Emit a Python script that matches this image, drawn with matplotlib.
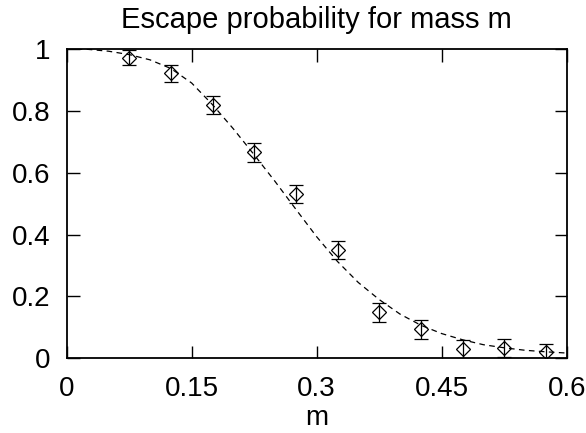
import matplotlib.pyplot as plt

plt.rcParams['font.family'] = ['Liberation Sans', 'DejaVu Sans']

# measured points
mass = [0.075, 0.125, 0.175, 0.225, 0.275, 0.325, 0.375, 0.425, 0.475, 0.525, 0.575]
prob = [0.972, 0.921, 0.819, 0.666, 0.531, 0.350, 0.149, 0.094, 0.029, 0.034, 0.021]
err = [0.025, 0.028, 0.030, 0.030, 0.030, 0.030, 0.030, 0.030, 0.030, 0.029, 0.025]

# dashed curve
curve_m = [0.0, 0.025, 0.05, 0.075, 0.1, 0.125, 0.15, 0.175, 0.2, 0.225, 0.25, 0.275,
           0.3, 0.325, 0.35, 0.375, 0.4, 0.425, 0.45, 0.475, 0.5, 0.525, 0.55, 0.575, 0.6]
curve_p = [1.0, 0.999, 0.993, 0.982, 0.965, 0.937, 0.890, 0.820, 0.742, 0.658, 0.572, 0.482,
           0.393, 0.313, 0.245, 0.190, 0.143, 0.107, 0.080, 0.060, 0.044, 0.034, 0.026, 0.021, 0.017]

xticks = [0, 0.15, 0.3, 0.45, 0.6]
xticklabels = ['0', '0.15', '0.3', '0.45', '0.6']
yticks = [0, 0.2, 0.4, 0.6, 0.8, 1.0]
yticklabels = ['0', '0.2', '0.4', '0.6', '0.8', '1']

fig = plt.figure(figsize=(5.86, 4.33), dpi=100)
ax = fig.add_axes([0.1138, 0.1725, 0.8532, 0.7143])

ax.plot(curve_m, curve_p, color='black', lw=0.9, dashes=(4.5, 3.5))
ax.errorbar(mass, prob, yerr=err, fmt='D', ms=7.5, mfc='none', mec='black', mew=0.9,
            ecolor='black', elinewidth=0.9, capsize=4.7, capthick=0.9)

ax.set_xlim(0, 0.6)
ax.set_ylim(0, 1)
ax.set_xticks(xticks)
ax.set_xticklabels(xticklabels)
ax.set_yticks(yticks)
ax.set_yticklabels(yticklabels)
ax.tick_params(direction='in', length=9, width=1, top=True, right=True, labelsize=20)
ax.tick_params(axis='x', pad=13)
ax.tick_params(axis='y', pad=12)
for s in ax.spines.values():
    s.set_linewidth(1.3)

ax.set_xlabel('m', fontsize=20, labelpad=2)
ax.set_title('Escape probability for mass m', fontsize=21, pad=15)

fig.savefig('out.png', dpi=100)
